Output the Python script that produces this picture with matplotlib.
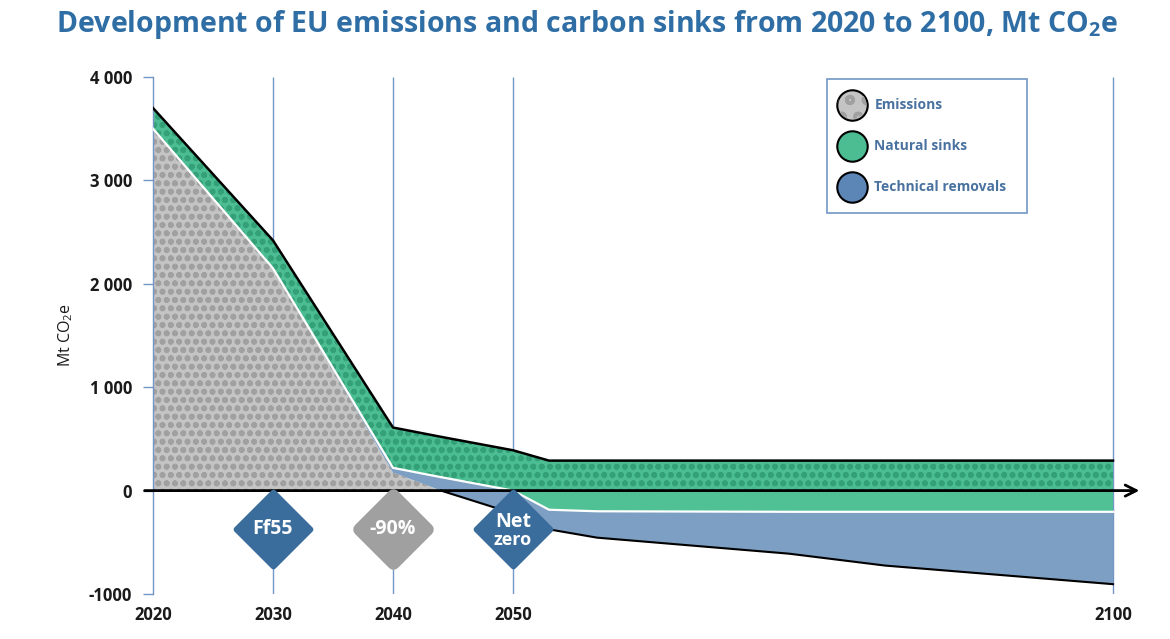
import numpy as np
import matplotlib
matplotlib.use("Agg")
import matplotlib.pyplot as plt
from matplotlib.patches import Rectangle
from matplotlib.markers import MarkerStyle

plt.rcParams['font.family'] = ['Open Sans', 'DejaVu Sans']
plt.rcParams['mathtext.fontset'] = 'custom'
plt.rcParams['mathtext.rm'] = 'Open Sans'
plt.rcParams['mathtext.bf'] = 'Open Sans:bold'

# values, Mt CO2e
years = [2020, 2030, 2040, 2044, 2050, 2053, 2057, 2073, 2081, 2100]
gross_total = [3700, 2420, 610, 520, 390, 290, 290, 290, 290, 290]
after_natural = [3500, 2150, 220, 130, 0, -185, -200, -205, -205, -205]
after_removals = [3500, 2150, 175, 0, -220, -375, -455, -610, -725, -905]

x_ticks = [2020, 2030, 2040, 2050, 2100]
y_ticks = [-1000, 0, 1000, 2000, 3000, 4000]
y_tick_labels = ['-1000', '0', '1 000', '2 000', '3 000', '4 000']

milestone_years = [2030, 2040, 2050]
milestone_labels = ['Ff55', '-90%', 'Net\nzero']
milestone_colors = ['#3a6d9c', '#a0a0a0', '#3a6d9c']

legend_labels = ['Emissions', 'Natural sinks', 'Technical removals']

BLUE_LINE = '#7396c4'
GRAY, GRAY_DOT = '#c4c4c4', '#a0a0a0'
GREEN, GREEN_DOT = '#4cbd92', '#33a077'
GREEN_PLAIN = '#50c195'
TECH = '#7c9fc3'
TECH_LEG = '#5b86b5'
TITLE_BLUE = '#2f6ea5'
LEG_TEXT = '#4a72a0'


def dotted_fill(ax, x, y1, y2, face, dots, **kw):
    ax.fill_between(x, y1, y2, facecolor=face, linewidth=0, zorder=2, **kw)
    with plt.rc_context({'hatch.color': dots, 'hatch.linewidth': 1.8}):
        ax.fill_between(x, y1, y2, facecolor='none', edgecolor=dots,
                        hatch='oo..', linewidth=0, zorder=2.1, **kw)


x = np.array(years, dtype=float)
top = np.array(gross_total, dtype=float)
mid = np.array(after_natural, dtype=float)
low = np.array(after_removals, dtype=float)

fig = plt.figure(figsize=(11.7, 6.39), dpi=100)
ax = fig.add_axes([153 / 1170, 45 / 639, 984 / 1170, 517 / 639])
ax.set_xlim(2020, 2102)
ax.set_ylim(-1000, 4000)

# vertical guide lines
ax.vlines(x_ticks[1:], -1000, 4000, color=BLUE_LINE, lw=1, zorder=0.5)

# areas
dotted_fill(ax, x, 0, low, GRAY, GRAY_DOT, where=low >= 0, interpolate=True)
ax.fill_between(x, low, mid, facecolor=TECH, linewidth=0, zorder=2)
ax.fill_between(x, np.minimum(mid, 0), 0, facecolor=GREEN_PLAIN, linewidth=0, zorder=2)
dotted_fill(ax, x, np.maximum(mid, 0), top, GREEN, GREEN_DOT)

# boundary lines
ax.plot(x, mid, color='white', lw=1.6, zorder=3)
ax.plot(x, top, color='black', lw=1.8, zorder=3.2)
ax.plot(x[3:], low[3:], color='black', lw=1.5, zorder=3.2)

# zero axis with arrow
ax.annotate('', xy=(2102.2, 0), xytext=(2019.3, 0), annotation_clip=False,
            arrowprops=dict(arrowstyle='->', lw=2, color='black', mutation_scale=20,
                            shrinkA=0, shrinkB=0), zorder=4)

# milestone diamonds
for yr, lab, col in zip(milestone_years, milestone_labels, milestone_colors):
    rounded = col == '#a0a0a0'
    ax.scatter([yr], [-375], marker=MarkerStyle('D', joinstyle='round'),
               s=1200 if rounded else 1430, color=col, edgecolors=col,
               linewidths=9 if rounded else 4, zorder=5, clip_on=False)
    if '\n' in lab:
        first, second = lab.split('\n')
        ax.text(yr, -300, first, ha='center', va='center', color='white',
                fontsize=14, fontweight='bold', zorder=6)
        ax.text(yr, -480, second, ha='center', va='center', color='white',
                fontsize=13, fontweight='bold', zorder=6)
    else:
        ax.text(yr, -375, lab, ha='center', va='center', color='white',
                fontsize=14, fontweight='bold', zorder=6)

# axes styling
for side in ['top', 'right', 'bottom']:
    ax.spines[side].set_visible(False)
ax.spines['left'].set_color(BLUE_LINE)
ax.spines['left'].set_linewidth(1)
ax.set_yticks(y_ticks)
ax.set_yticklabels(y_tick_labels, fontsize=12, fontweight='bold', color='#1a1a1a')
ax.tick_params(axis='y', length=7, width=1, color=BLUE_LINE, pad=8)
ax.set_xticks(x_ticks)
ax.set_xticklabels([str(t) for t in x_ticks], fontsize=12, fontweight='bold', color='#1a1a1a')
ax.tick_params(axis='x', length=0, pad=9)
ax.set_ylabel('Mt CO$_2$e', fontsize=11.5, color='#1a1a1a', labelpad=10)

# legend box drawn by hand
ax.add_patch(Rectangle((0.685, 0.7377), 0.203, 0.2593, transform=ax.transAxes,
                       facecolor='white', edgecolor=BLUE_LINE, lw=1.2, zorder=7))
leg_y = [0.9466, 0.8674, 0.788]
leg_face = [GRAY, GREEN, TECH_LEG]
for i, (lab, yy, fc) in enumerate(zip(legend_labels, leg_y, leg_face)):
    ax.scatter([0.7104], [yy], s=480, color=fc, edgecolors='black', linewidths=1.5,
               transform=ax.transAxes, zorder=8, clip_on=False)
    if i == 0:
        with plt.rc_context({'hatch.color': GRAY_DOT, 'hatch.linewidth': 2.5}):
            ax.scatter([0.7104], [yy], s=430, facecolor='none', edgecolors=GRAY_DOT,
                       hatch='o', linewidths=0, transform=ax.transAxes, zorder=8.1,
                       clip_on=False)
    ax.text(0.733, yy, lab, transform=ax.transAxes, ha='left', va='center',
            fontsize=10, fontweight='bold', color=LEG_TEXT, zorder=9)

fig.text(0.502, 0.962, 'Development of EU emissions and carbon sinks from 2020 to 2100, Mt CO$_\\mathbf{2}$e',
         ha='center', va='center', fontsize=20.5, fontweight='bold', color=TITLE_BLUE)

fig.savefig('out.png', dpi=100)
